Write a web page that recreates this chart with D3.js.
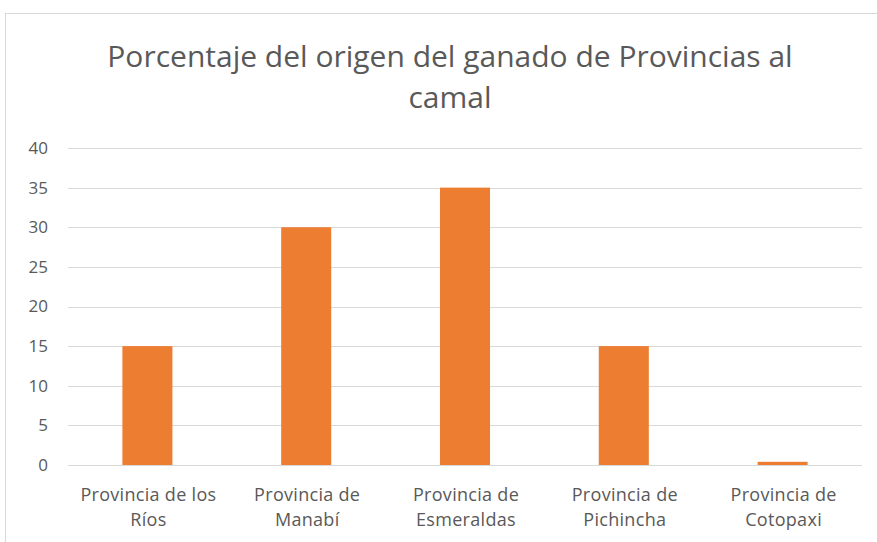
<!DOCTYPE html>
<html>
<head>
<meta charset="utf-8">
<script src="https://cdn.jsdelivr.net/npm/d3@7"></script>
<style>
  html, body { margin: 0; padding: 0; background: #fff; }
  svg { display: block; }
</style>
</head>
<body>
<svg id="chart" width="877" height="542"></svg>
<script>
const categories = [
  ["Provincia de los", "Ríos"],
  ["Provincia de", "Manabí"],
  ["Provincia de", "Esmeraldas"],
  ["Provincia de", "Pichincha"],
  ["Provincia de", "Cotopaxi"]
];
const values = [15, 30, 35, 15, 0.4];
const yTicks = [0, 5, 10, 15, 20, 25, 30, 35, 40];
const titleLines = ["Porcentaje del origen del ganado de Provincias al", "camal"];

const svg = d3.select("#chart");
const font = "'Open Sans', 'Liberation Sans', sans-serif";
const textColor = "#595959";

// Chart area frame
svg.append("rect")
  .attr("x", 5.5).attr("y", 13.5)
  .attr("width", 900).attr("height", 600)
  .attr("fill", "#fff")
  .attr("stroke", "#d9d9d9").attr("stroke-width", 1);

const plot = { left: 68, right: 862, top: 148, bottom: 465 };

const x = d3.scaleBand()
  .domain(d3.range(categories.length))
  .range([plot.left, plot.right])
  .paddingInner(0.685)
  .paddingOuter(0.3425);

const y = d3.scaleLinear()
  .domain([0, 40])
  .range([plot.bottom, plot.top]);

// Title
svg.append("g").selectAll("text")
  .data(titleLines)
  .join("text")
  .attr("x", 450)
  .attr("y", (d, i) => 67 + i * 41)
  .attr("text-anchor", "middle")
  .attr("font-family", font)
  .attr("font-size", 30)
  .attr("fill", textColor)
  .text(d => d);

// Gridlines
svg.append("g").selectAll("line")
  .data(yTicks.filter(t => t > 0))
  .join("line")
  .attr("x1", plot.left).attr("x2", plot.right)
  .attr("y1", d => Math.round(y(d)) + 0.5)
  .attr("y2", d => Math.round(y(d)) + 0.5)
  .attr("stroke", "#d9d9d9").attr("stroke-width", 1);

// Y axis labels
const yAxis = d3.axisLeft(y).tickValues(yTicks).tickSize(0).tickPadding(0);
const yg = svg.append("g")
  .attr("transform", `translate(${plot.left - 20},0)`)
  .call(yAxis);
yg.select(".domain").remove();
yg.selectAll("text")
  .attr("font-family", font)
  .attr("font-size", 17)
  .attr("fill", textColor);

// Bars
svg.append("g").selectAll("rect")
  .data(values)
  .join("rect")
  .attr("x", (d, i) => x(i))
  .attr("width", x.bandwidth())
  .attr("y", d => y(d))
  .attr("height", d => y(0) - y(d))
  .attr("fill", "#ed7d31");

// Baseline
svg.append("line")
  .attr("x1", plot.left).attr("x2", plot.right)
  .attr("y1", Math.round(y(0)) + 0.5).attr("y2", Math.round(y(0)) + 0.5)
  .attr("stroke", "#d9d9d9").attr("stroke-width", 1);

// Category labels (two lines each)
const xg = svg.append("g");
categories.forEach((lines, i) => {
  const cx = x(i) + x.bandwidth() / 2 + 1;
  xg.append("text")
    .attr("x", cx)
    .attr("y", 501)
    .attr("text-anchor", "middle")
    .attr("font-family", font)
    .attr("font-size", 18)
    .attr("letter-spacing", 0.3)
    .attr("fill", textColor)
    .selectAll("tspan")
    .data(lines)
    .join("tspan")
    .attr("x", cx)
    .attr("dy", (d, j) => j === 0 ? 0 : 25)
    .text(d => d);
});
</script>
</body>
</html>
